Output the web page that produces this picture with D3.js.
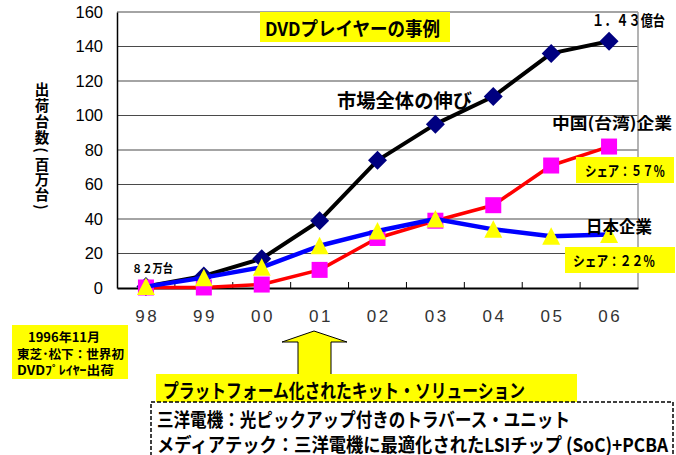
<!DOCTYPE html>
<html>
<head>
<meta charset="utf-8">
<script src="https://cdn.jsdelivr.net/npm/d3@7"></script>
<style>
  html, body { margin: 0; padding: 0; background: #fff; }
  svg { display: block; }
  .jp { font-family: "Noto Sans CJK JP", "Noto Sans", sans-serif; font-weight: 700; fill: #000; }
</style>
</head>
<body>
<svg id="chart" width="676" height="455"></svg>
<script>
// Years (fiscal) on the category axis
const years = ["98", "99", "00", "01", "02", "03", "04", "05", "06"];
// Shipments, millions of units
const marketTotal = [0.82, 7, 17, 39, 74, 95, 111, 136, 143];
const chinaTaiwan = [0.3, 0.3, 2, 10.5, 29, 39, 48, 71, 82];
const japan = [0.8, 6, 12, 24.5, 33, 40, 34, 30, 31];
const yTicks = [0, 20, 40, 60, 80, 100, 120, 140, 160];

const svg = d3.select("#chart");
const plot = { left: 117, right: 638, top: 12, bottom: 288 };

const x = d3.scaleBand().domain(years).range([plot.left, plot.right]);
const y = d3.scaleLinear().domain([0, 160]).range([plot.bottom, plot.top]);
const cx = d => x(d) + x.bandwidth() / 2;

// Horizontal gridlines
svg.append("g").selectAll("line")
  .data(yTicks.filter(t => t > 0))
  .join("line")
  .attr("x1", plot.left).attr("x2", plot.right)
  .attr("y1", d => y(d)).attr("y2", d => y(d))
  .attr("stroke", "#4a4a4a").attr("stroke-width", 1.2);

// Right frame edge
svg.append("line")
  .attr("x1", plot.right).attr("x2", plot.right)
  .attr("y1", plot.top).attr("y2", plot.bottom)
  .attr("stroke", "#9a9a9a").attr("stroke-width", 1.5);

// Y axis
const yAxis = d3.axisLeft(y).tickValues(yTicks).tickSize(0).tickPadding(14);
const gy = svg.append("g").attr("transform", `translate(${plot.left},0)`).call(yAxis);
gy.select(".domain").attr("stroke", "#000").attr("stroke-width", 1.5);
gy.selectAll("text")
  .attr("font-family", "Liberation Sans, Arial, sans-serif")
  .attr("font-size", 16.5).attr("fill", "#000");

// X axis: ticks at category boundaries, pointing inward
const xAxis = d3.axisBottom(x).tickSize(0).tickPadding(0).tickFormat("");
const gx = svg.append("g").attr("transform", `translate(0,${plot.bottom})`).call(xAxis);
gx.select(".domain").attr("stroke", "#000").attr("stroke-width", 2);
gx.selectAll(".tick").remove();
svg.append("g").selectAll("line")
  .data(years.slice(1))
  .join("line")
  .attr("x1", d => x(d)).attr("x2", d => x(d))
  .attr("y1", plot.bottom - 6).attr("y2", plot.bottom)
  .attr("stroke", "#000").attr("stroke-width", 1);
// Year labels, digits set apart
const yearLabels = svg.append("g");
years.forEach(yr => {
  yr.split("").forEach((ch, k) => {
    yearLabels.append("text")
      .attr("x", cx(yr) + (k === 0 ? -6 : 6)).attr("y", 322)
      .attr("text-anchor", "middle")
      .attr("font-family", "Liberation Sans Narrow, Liberation Sans, sans-serif")
      .attr("font-size", 17).attr("fill", "#333")
      .text(ch);
  });
});

// Series lines and markers
const line = d3.line().x((d, i) => cx(years[i])).y(d => y(d));

function diamond(g, data) {
  g.selectAll("path.m").data(data).join("path").attr("class", "m")
    .attr("d", (d, i) => { const px = cx(years[i]), py = y(d), r = 9.5;
      return `M${px},${py - r}L${px + r},${py}L${px},${py + r}L${px - r},${py}Z`; })
    .attr("fill", "#000080");
}
function square(g, data) {
  g.selectAll("rect.m").data(data).join("rect").attr("class", "m")
    .attr("x", (d, i) => cx(years[i]) - 8).attr("y", d => y(d) - 8)
    .attr("width", 16).attr("height", 16)
    .attr("fill", "#ff00ff");
}
function triangle(g, data) {
  g.selectAll("path.m").data(data).join("path").attr("class", "m")
    .attr("d", (d, i) => { const px = cx(years[i]), py = y(d);
      return `M${px},${py - 9}L${px + 9},${py + 8.5}L${px - 9},${py + 8.5}Z`; })
    .attr("fill", "#ffff00");
}

const series = [
  { data: marketTotal, color: "#000", width: 4, marker: diamond },
  { data: chinaTaiwan, color: "#ff0000", width: 3.5, marker: square },
  { data: japan, color: "#0000ff", width: 4.5, marker: triangle }
];
series.forEach(s => {
  const g = svg.append("g");
  g.append("path").datum(s.data).attr("d", line)
    .attr("fill", "none").attr("stroke", s.color).attr("stroke-width", s.width)
    .attr("stroke-linejoin", "round");
  s.marker(g, s.data);
});

// Text helper
function label(txt, x0, yc, size, len, opts = {}) {
  const t = svg.append("text").attr("class", "jp")
    .attr("x", x0).attr("y", yc).attr("dominant-baseline", "central")
    .attr("font-size", size).text(txt);
  if (len) t.attr("textLength", len).attr("lengthAdjust", "spacingAndGlyphs");
  if (opts.anchor) t.attr("text-anchor", opts.anchor);
  return t;
}
function yellowBox(x0, y0, w, h) {
  svg.append("rect").attr("x", x0).attr("y", y0).attr("width", w).attr("height", h)
    .attr("fill", "#ffff00");
}

// Title
yellowBox(260, 12, 190, 30);
label("DVDプレイヤーの事例", 265, 27, 19, 175);

// Series annotations
label("１．４３億台", 592, 19, 15, 73);
label("市場全体の伸び", 337, 99, 19, 135);
label("中国(台湾)企業", 552, 122, 16, 120);
yellowBox(576, 157, 98, 26);
label("シェア：５７％", 585, 170, 14, 80);
label("日本企業", 586, 225, 17, 66);
yellowBox(565, 247, 110, 26);
label("シェア：２２％", 573, 260, 14, 82);
label("８２万台", 132, 267, 12, 41);

// Y axis title, one character per row; brackets turned upright
const yTitle = [
  ["出", 88], ["荷", 104], ["台", 120], ["数", 136], ["(", 150],
  ["百", 163], ["万", 178], ["台", 193], [")", 207]
];
yTitle.forEach(([ch, yc]) => {
  const t = svg.append("text").attr("class", "jp")
    .attr("x", 42).attr("y", yc)
    .attr("text-anchor", "middle").attr("dominant-baseline", "central")
    .attr("font-size", 14.5).text(ch);
  if (ch === "(" || ch === ")") t.attr("transform", `rotate(90,42,${yc})`);
});

// First-shipment note
yellowBox(12, 325, 116, 54);
label("1996年11月", 28, 336, 12.5, 72);
label("東芝･松下：世界初", 17, 353, 12.5, 107);
label("DVDﾌﾟﾚｲﾔｰ出荷", 17, 369, 12.5, 97);

// Upward block arrow
svg.append("path")
  .attr("d", "M314,331 L347,342 L331,342 L331,375 L298,375 L298,342 L282,342 Z")
  .attr("fill", "#ffff00").attr("stroke", "#000").attr("stroke-width", 1);

// Kit-solution banner
yellowBox(156, 374, 421, 28);
label("プラットフォーム化されたキット・ソリューション", 163, 389, 19, 362);

// Dashed box with supplier roles
svg.append("rect").attr("x", 151).attr("y", 402).attr("width", 522).attr("height", 60)
  .attr("fill", "#fff").attr("stroke", "#000").attr("stroke-width", 1.5)
  .attr("stroke-dasharray", "4,2");
label("三洋電機：光ピックアップ付きのトラバース・ユニット", 157, 418, 19, 413);
label("メディアテック：三洋電機に最適化されたLSIチップ (SoC)+PCBA", 157, 443, 19, 511);
</script>
</body>
</html>
